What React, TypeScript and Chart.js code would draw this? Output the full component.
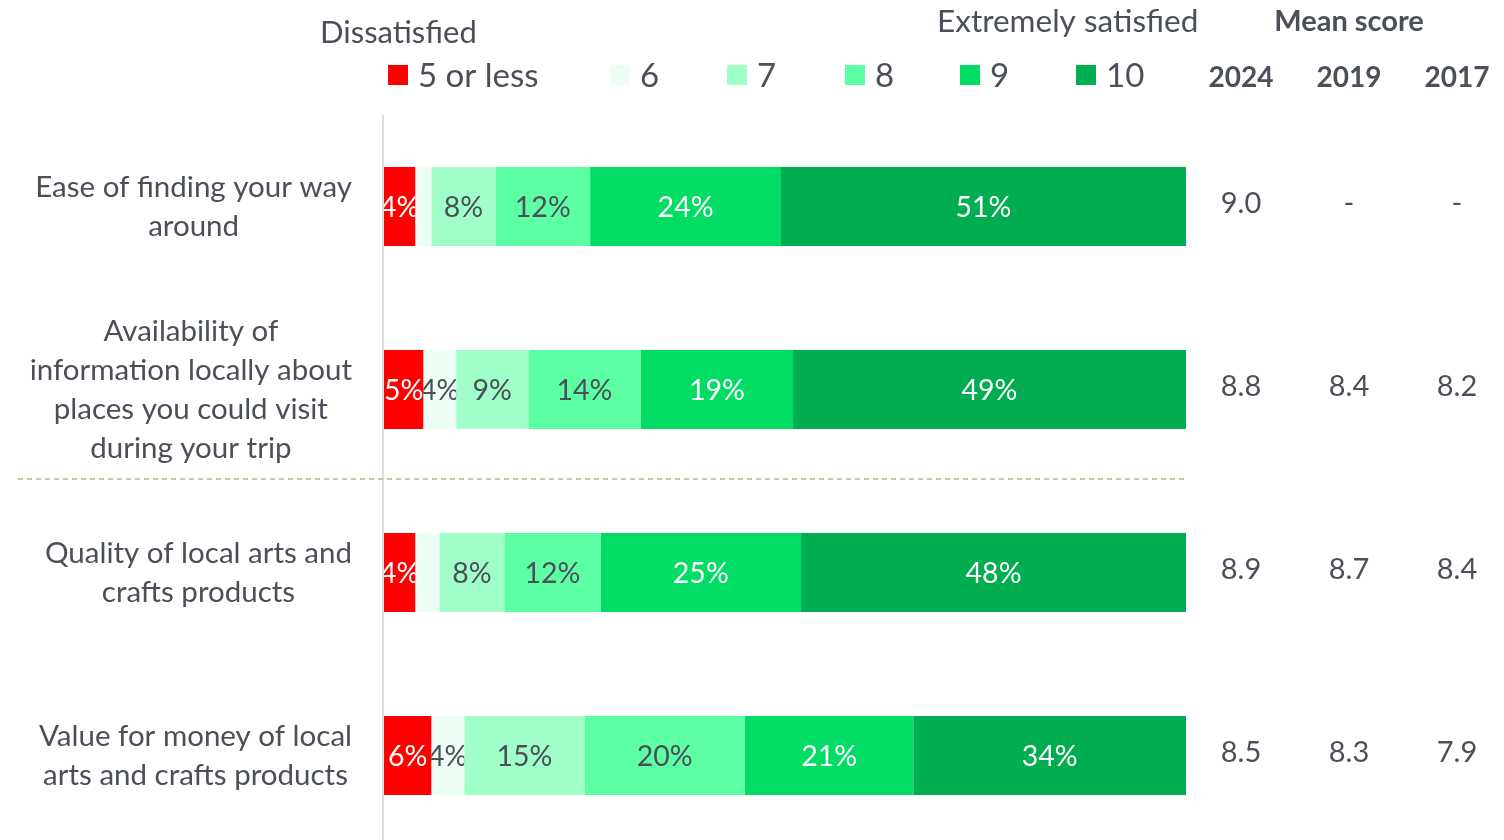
import React, { useEffect, useRef } from "react";
import { Chart, registerables } from "chart.js";

Chart.register(...registerables);

const categories: string[][] = [
  ["Ease of finding your way", "around"],
  ["Availability of", "information locally about", "places you could visit", "during your trip"],
  ["Quality of local arts and", "crafts products"],
  ["Value for money of local", "arts and crafts products"],
];

const scoreLabels = ["5 or less", "6", "7", "8", "9", "10"];
const scoreColors = ["#ff0000", "#edfff4", "#a0ffc8", "#5dffa4", "#00dc64", "#00ad50"];
const labelColors = ["#ffffff", "#4b4f58", "#4b4f58", "#4b4f58", "#ffffff", "#ffffff"];

const score5 = [3.9, 4.9, 3.9, 5.9];
const score6 = [2.0, 4.1, 3.0, 4.1];
const score7 = [8.0, 9.0, 8.1, 15.0];
const score8 = [11.8, 14.0, 12.0, 20.0];
const score9 = [23.8, 19.0, 25.0, 21.0];
const score10 = [50.5, 49.0, 48.0, 34.0];

const meanYears = ["2024", "2019", "2017"];
const mean2024: (number | null)[] = [9.0, 8.8, 8.9, 8.5];
const mean2019: (number | null)[] = [null, 8.4, 8.7, 8.3];
const mean2017: (number | null)[] = [null, 8.2, 8.4, 7.9];

const TEXT = "#4b4f58";
const FONT = "Lato";

export default function App() {
  const ref = useRef<HTMLCanvasElement | null>(null);

  useEffect(() => {
    const canvas = ref.current;
    if (!canvas) return;
    const series = [score5, score6, score7, score8, score9, score10];

    const overlay = {
      id: "overlay",
      beforeDatasetsDraw(chart: any) {
        const { ctx, chartArea } = chart;
        ctx.save();
        ctx.strokeStyle = "#dcdde4";
        ctx.lineWidth = 2;
        ctx.beginPath();
        ctx.moveTo(chartArea.left - 1, chartArea.top);
        ctx.lineTo(chartArea.left - 1, chartArea.bottom);
        ctx.stroke();
        ctx.restore();
      },
      afterDatasetsDraw(chart: any) {
        const { ctx, chartArea } = chart;
        const yScale = chart.scales.y;
        ctx.save();
        // bar value labels
        chart.data.datasets.forEach((ds: any, di: number) => {
          const meta = chart.getDatasetMeta(di);
          meta.data.forEach((bar: any, i: number) => {
            const v = ds.data[i] as number;
            if (v < 3.5) return;
            const left = Math.min(bar.x, bar.base);
            const right = Math.max(bar.x, bar.base);
            const h = bar.height;
            ctx.save();
            ctx.beginPath();
            ctx.rect(left, bar.y - h / 2, right - left, h);
            ctx.clip();
            ctx.font = `28.5px ${FONT}`;
            ctx.fillStyle = labelColors[di];
            ctx.textAlign = "center";
            ctx.textBaseline = "middle";
            ctx.fillText(`${Math.round(v)}%`, (left + right) / 2, bar.y + 1);
            ctx.restore();
          });
        });

        // category labels
        ctx.font = `29.5px ${FONT}`;
        ctx.fillStyle = TEXT;
        ctx.textAlign = "center";
        ctx.textBaseline = "middle";
        const lh = 39;
        categories.forEach((lines, i) => {
          const cy = yScale.getPixelForValue(i);
          const maxW = Math.max(...lines.map((l) => ctx.measureText(l).width));
          const cx = 352 - maxW / 2;
          lines.forEach((l, k) => {
            ctx.fillText(l, cx, cy + (k - (lines.length - 1) / 2) * lh);
          });
        });

        // mean scores
        const cols = [mean2024, mean2019, mean2017];
        const colX = [1241, 1349, 1457];
        ctx.font = `29px ${FONT}`;
        cols.forEach((col, c) => {
          col.forEach((m, i) => {
            const cy = yScale.getPixelForValue(i);
            ctx.fillText(m == null ? "-" : m.toFixed(1), colX[c], cy - 3);
          });
        });

        // dashed separator
        const sepY = (yScale.getPixelForValue(1) + yScale.getPixelForValue(2)) / 2 - 2;
        ctx.strokeStyle = "#b4b58a";
        ctx.lineWidth = 1.5;
        ctx.setLineDash([5, 4]);
        ctx.beginPath();
        ctx.moveTo(18, sepY);
        ctx.lineTo(chartArea.right, sepY);
        ctx.stroke();
        ctx.setLineDash([]);

        // headers
        ctx.textAlign = "left";
        ctx.font = `31px ${FONT}`;
        ctx.fillText("Dissatisfied", 320, 33);
        ctx.font = `31.5px ${FONT}`;
        ctx.fillText("Extremely satisfied", 937, 22);
        ctx.textAlign = "center";
        ctx.font = `bold 29px ${FONT}`;
        ctx.fillText("Mean score", 1349, 22);
        ctx.font = `bold 28px ${FONT}`;
        meanYears.forEach((y, c) => ctx.fillText(y, colX[c], 78));

        // legend
        const legendX = [388, 610, 727, 845, 960, 1076];
        ctx.textAlign = "left";
        ctx.font = `33px ${FONT}`;
        chart.data.datasets.forEach((ds: any, di: number) => {
          ctx.fillStyle = ds.backgroundColor;
          ctx.fillRect(legendX[di], 65, 20, 20);
          ctx.fillStyle = TEXT;
          ctx.fillText(ds.label, legendX[di] + 30, 76);
        });
        ctx.restore();
      },
    };

    const chart = new Chart(canvas, {
      type: "bar",
      data: {
        labels: categories.map((c) => c.join(" ")),
        datasets: series.map((d, i) => ({
          label: scoreLabels[i],
          data: d,
          backgroundColor: scoreColors[i],
          borderWidth: 0,
          categoryPercentage: 1,
          barPercentage: 0.432,
        })),
      },
      options: {
        indexAxis: "y",
        responsive: false,
        animation: false,
        layout: { padding: { left: 384, right: 318, top: 115, bottom: 1 } },
        plugins: { legend: { display: false }, tooltip: { enabled: false } },
        scales: {
          x: { stacked: true, min: 0, max: 100, display: false },
          y: { stacked: true, display: false },
        },
      },
      plugins: [overlay],
    });
    return () => chart.destroy();
  }, []);

  return (
    <div style={{ position: "fixed", left: 0, top: 0, width: 1504, height: 840, overflow: "hidden", background: "#fff" }}>
      <canvas ref={ref} width={1504} height={848} style={{ display: "block" }} />
    </div>
  );
}
